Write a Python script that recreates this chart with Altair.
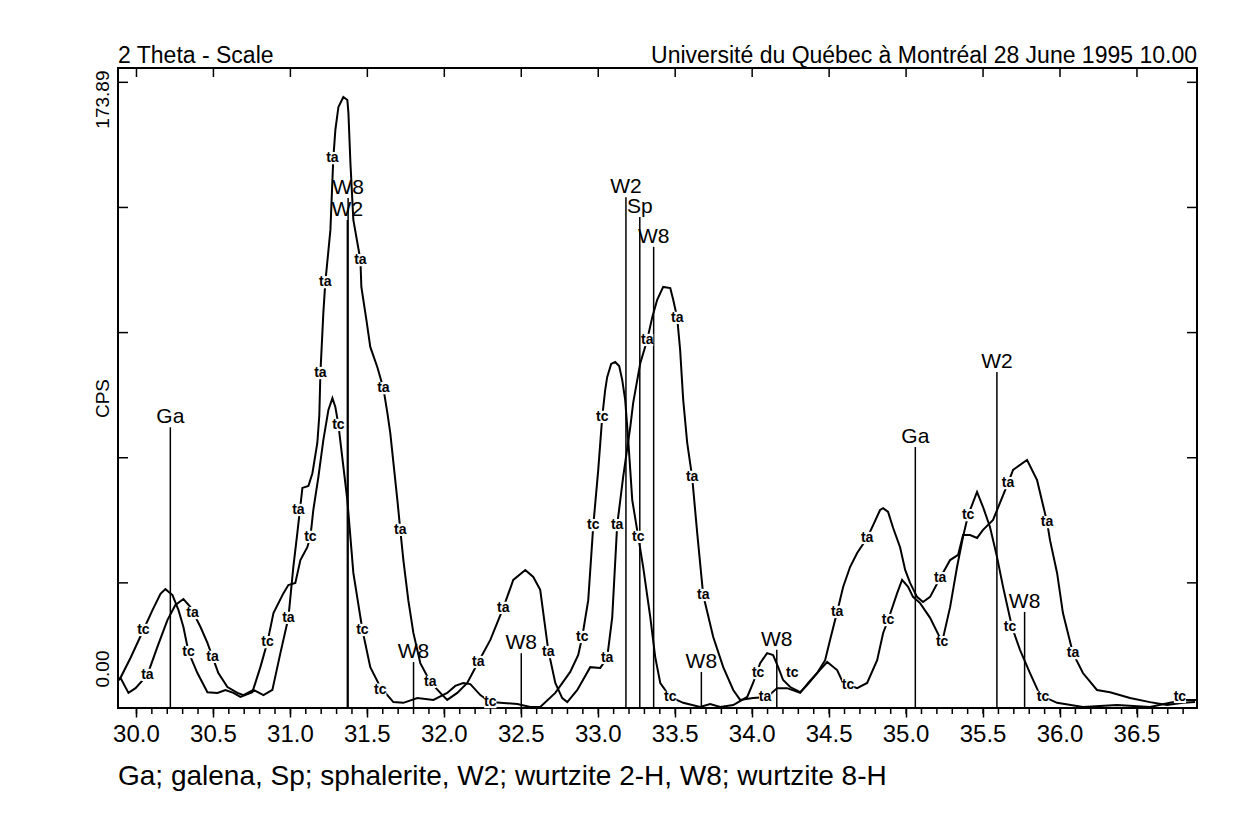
import altair as alt
import pandas as pd

# ---- curve "tc" (2-theta, CPS) ----
TC_X = [29.883, 29.896, 29.961, 30.045, 30.104, 30.156, 30.188, 30.234, 30.273, 30.305,
        30.338, 30.396, 30.461, 30.526, 30.578, 30.630, 30.675, 30.753, 30.805, 30.851,
        30.890, 30.955, 30.987, 31.032, 31.065, 31.110, 31.130, 31.149, 31.182, 31.214,
        31.247, 31.273, 31.292, 31.312, 31.370, 31.409, 31.468, 31.519, 31.584, 31.669,
        31.734, 31.825, 31.929, 32.019, 32.071, 32.123, 32.169, 32.234, 32.299, 32.364,
        32.474, 32.558, 32.623, 32.721, 32.818, 32.870, 32.896, 32.935, 32.968, 33.000,
        33.026, 33.045, 33.058, 33.084, 33.110, 33.136, 33.156, 33.175, 33.195, 33.221,
        33.260, 33.292, 33.338, 33.370, 33.403, 33.468, 33.552, 33.662, 33.727, 33.792,
        33.877, 33.968, 34.006, 34.052, 34.097, 34.136, 34.169, 34.201, 34.247, 34.312,
        34.357, 34.422, 34.487, 34.552, 34.591, 34.682, 34.747, 34.812, 34.851, 34.883,
        34.942, 34.974, 35.013, 35.045, 35.091, 35.156, 35.234, 35.286, 35.331, 35.370,
        35.403, 35.461, 35.500, 35.545, 35.591, 35.630, 35.688, 35.740, 35.805, 35.870,
        35.981, 36.149, 36.370, 36.584, 36.714, 36.812, 36.890]
TC_Y = [7.6, 8.2, 13.6, 21.2, 26.6, 31.0, 32.3, 30.7, 26.6, 22.0,
        15.2, 9.5, 4.3, 4.1, 4.9, 4.1, 3.0, 4.3, 11.1, 17.9,
        25.8, 31.2, 33.4, 34.0, 40.2, 43.7, 46.5, 53.8, 62.8, 72.8,
        81.0, 84.2, 81.8, 76.9, 56.5, 36.7, 21.2, 11.1, 5.7, 1.6,
        1.4, 2.7, 2.2, 4.1, 6.0, 6.8, 6.5, 3.5, 1.6, 1.4,
        1.1, 0.3, 0.3, 4.1, 9.8, 14.4, 19.3, 29.3, 49.7, 64.7,
        79.1, 86.4, 89.9, 93.5, 94.0, 92.9, 89.1, 83.7, 72.8, 56.5,
        46.5, 38.3, 24.7, 13.9, 6.8, 3.0, 1.4, 0.3, 1.1, 0.3,
        0.8, 3.0, 6.8, 12.2, 14.9, 14.4, 11.1, 7.6, 5.7, 4.3,
        6.2, 9.5, 12.5, 10.3, 6.8, 5.4, 6.8, 13.0, 20.4, 23.9,
        31.2, 34.8, 32.9, 30.2, 28.5, 24.5, 17.9, 27.4, 38.3, 46.5,
        52.4, 58.7, 54.6, 49.2, 41.0, 32.9, 22.0, 15.8, 9.5, 3.5,
        1.4, 0.3, 0.8, 0.3, 1.4, 2.2, 2.2]

# ---- curve "ta" ----
TA_X = [29.883, 29.896, 29.948, 29.994, 30.071, 30.136, 30.201, 30.253, 30.305, 30.351,
        30.416, 30.461, 30.494, 30.532, 30.591, 30.656, 30.695, 30.760, 30.825, 30.883,
        30.935, 30.987, 31.019, 31.045, 31.078, 31.117, 31.143, 31.175, 31.188, 31.195,
        31.214, 31.227, 31.260, 31.273, 31.279, 31.292, 31.312, 31.344, 31.370, 31.377,
        31.390, 31.409, 31.455, 31.461, 31.494, 31.519, 31.565, 31.604, 31.630, 31.649,
        31.695, 31.714, 31.734, 31.766, 31.799, 31.844, 31.909, 31.974, 32.019, 32.084,
        32.149, 32.221, 32.299, 32.383, 32.448, 32.526, 32.578, 32.623, 32.675, 32.721,
        32.766, 32.799, 32.864, 32.948, 33.013, 33.058, 33.091, 33.123, 33.162, 33.208,
        33.227, 33.273, 33.318, 33.351, 33.383, 33.422, 33.468, 33.487, 33.513, 33.532,
        33.552, 33.578, 33.610, 33.643, 33.682, 33.747, 33.812, 33.877, 33.922, 34.006,
        34.097, 34.162, 34.227, 34.312, 34.364, 34.422, 34.474, 34.506, 34.552, 34.591,
        34.636, 34.682, 34.747, 34.786, 34.831, 34.851, 34.883, 34.916, 34.961, 34.994,
        35.026, 35.071, 35.110, 35.156, 35.221, 35.286, 35.338, 35.370, 35.416, 35.461,
        35.500, 35.565, 35.662, 35.695, 35.786, 35.851, 35.916, 35.935, 35.981, 36.019,
        36.084, 36.149, 36.240, 36.325, 36.455, 36.584, 36.695, 36.799, 36.877]
TA_Y = [7.6, 8.2, 4.1, 5.4, 9.0, 16.6, 23.9, 28.0, 29.6, 27.4,
        22.0, 17.7, 13.9, 9.5, 5.7, 4.1, 3.5, 4.9, 3.5, 4.9,
        14.9, 24.5, 38.3, 47.5, 59.8, 60.3, 63.8, 72.0, 79.6, 91.0,
        107.3, 115.7, 129.9, 143.5, 149.4, 157.0, 163.3, 166.0, 165.2, 161.7,
        148.1, 132.6, 121.7, 114.4, 105.4, 98.1, 92.6, 86.9, 80.2, 74.7,
        56.5, 48.4, 40.2, 29.3, 20.4, 12.2, 7.1, 4.1, 2.2, 4.1,
        6.8, 12.5, 18.5, 27.2, 34.8, 37.5, 35.6, 32.1, 15.8, 6.8,
        2.7, 1.6, 4.9, 11.1, 10.9, 13.6, 24.7, 49.7, 62.8, 76.3,
        82.9, 93.7, 100.0, 106.2, 110.9, 114.4, 114.1, 110.9, 106.0, 97.3,
        83.7, 72.0, 62.8, 47.5, 30.7, 19.3, 11.1, 4.9, 2.2, 2.7,
        3.0, 5.4, 5.4, 4.1, 6.8, 9.5, 13.0, 18.5, 26.1, 32.9,
        38.3, 42.1, 46.2, 49.7, 53.8, 54.3, 53.3, 48.9, 43.7, 37.5,
        34.0, 30.2, 28.8, 30.2, 35.3, 40.2, 41.6, 47.0, 47.0, 46.2,
        48.4, 51.1, 61.1, 64.7, 67.4, 61.9, 50.5, 45.6, 36.7, 25.8,
        14.9, 9.5, 4.9, 4.3, 2.7, 1.6, 0.8, 1.4, 1.6]

# ---- small "tc" / "ta" tags written along the curves ----
TC_TAG_X = [30.045, 30.338, 30.851, 31.130, 31.312, 31.468, 31.584, 32.299, 32.896, 32.968,
            33.026, 33.260, 33.468, 34.039, 34.260, 34.623, 34.883, 35.234, 35.403, 35.675,
            35.890, 36.779]
TC_TAG_Y = [21.2, 15.2, 17.9, 46.5, 76.9, 21.2, 5.0, 1.6, 19.3, 49.7,
            79.1, 46.5, 3.0, 9.5, 9.5, 6.2, 23.9, 17.9, 52.4, 22.0,
            3.0, 3.0]
TA_TAG_X = [30.071, 30.364, 30.494, 30.987, 31.052, 31.195, 31.227, 31.273, 31.455, 31.604,
            31.714, 31.909, 32.221, 32.383, 32.675, 33.058, 33.123, 33.318, 33.513, 33.610,
            33.682, 34.084, 34.552, 34.747, 35.221, 35.662, 35.916, 36.084]
TA_TAG_Y = [9.0, 25.8, 13.9, 24.5, 53.8, 91.0, 115.7, 149.4, 121.7, 86.9,
            48.4, 7.1, 12.5, 27.2, 15.2, 13.6, 49.7, 100.0, 106.0, 62.8,
            30.7, 3.0, 26.1, 46.2, 35.3, 61.1, 50.5, 14.9]

# ---- reference peak lines ----
REF_X = [30.22, 31.37, 31.375, 31.80, 32.50, 33.18, 33.27, 33.36, 33.67, 34.16, 35.06, 35.59, 35.77]
REF_TOP = [76.3, 132.6, 138.6, 12.5, 14.9, 138.8, 133.4, 125.3, 9.8, 15.8, 70.9, 91.3, 26.1]
REF_NAME = ["Ga", "W2", "W8", "W8", "W8", "W2", "Sp", "W8", "W8", "W8", "Ga", "W2", "W8"]

# ---- axes ----
X_MAJOR = [30.0, 30.5, 31.0, 31.5, 32.0, 32.5, 33.0, 33.5, 34.0, 34.5, 35.0, 35.5, 36.0, 36.5]
X_MINOR = [round(30.0 + 0.1 * i, 1) for i in range(69)]
Y_LABELS = [0.0, 173.89]
Y_TICKS = [34.0, 68.0, 102.0, 136.0, 170.0]

TITLE_LEFT = "2 Theta - Scale"
TITLE_RIGHT = "Université du Québec à Montréal 28 June 1995 10.00"
CAPTION = "Ga; galena, Sp; sphalerite, W2; wurtzite 2-H, W8; wurtzite 8-H"

W, H = 1079, 640
FONT = "Liberation Sans"

xs = alt.Scale(domain=[29.88, 36.89], nice=False, zero=False)
ys = alt.Scale(domain=[0, 173.89], nice=False, zero=False)

curves = pd.DataFrame({
    "x": TC_X + TA_X,
    "y": TC_Y + TA_Y,
    "s": ["tc"] * len(TC_X) + ["ta"] * len(TA_X),
})
tags = pd.DataFrame({
    "x": TC_TAG_X + TA_TAG_X,
    "y": TC_TAG_Y + TA_TAG_Y,
    "s": ["tc"] * len(TC_TAG_X) + ["ta"] * len(TA_TAG_X),
})
refs = pd.DataFrame({"x": REF_X, "top": REF_TOP, "name": REF_NAME})

Y_ALIGN = {"condition": {"test": "datum.value > 100", "value": "right"}, "value": "left"}
Y_OFFSET = {"condition": {"test": "datum.value > 100", "value": 2}, "value": -21}

# the same axis definition is given to every layer so that the shared axes merge cleanly
x_axis = alt.Axis(orient="bottom", values=X_MAJOR, tickSize=9, tickWidth=1.5,
                  tickColor="black", domain=False, grid=False, labels=False, title=None)
y_axis = alt.Axis(orient="left", values=Y_LABELS, ticks=False, domain=False, grid=False,
                  labelExpr="format(datum.value, '.2f')", labelAngle=270,
                  labelAlign=Y_ALIGN, labelOffset=Y_OFFSET,
                  labelBaseline="bottom", labelPadding=6, labelFont=FONT, labelFontSize=19,
                  labelColor="black", title="CPS", titleAngle=270, titleX=-6, titleY=330,
                  titleAlign="center", titleBaseline="bottom", titleFont=FONT, titleFontSize=19,
                  titleFontWeight="normal", titleColor="black")


def X(field):
    return alt.X(field, scale=xs, axis=x_axis)


def Y(field):
    return alt.Y(field, scale=ys, axis=y_axis)


lines = alt.Chart(curves).mark_line(color="black", strokeWidth=2).encode(
    x=X("x:Q"), y=Y("y:Q"), detail="s:N",
)
rules = alt.Chart(refs).mark_rule(color="black", strokeWidth=1.5).encode(
    x=X("x:Q"), y=Y("top:Q"), y2=alt.datum(0),
)
ref_text = alt.Chart(refs).mark_text(font=FONT, fontSize=21, baseline="alphabetic", dy=-4,
                                     color="black").encode(
    x=X("x:Q"), y=Y("top:Q"), text="name:N",
)
tag_bg = alt.Chart(tags).mark_square(color="white", opacity=1, size=150, filled=True).encode(
    x=X("x:Q"), y=Y("y:Q"),
)
tag_text = alt.Chart(tags).mark_text(font=FONT, fontSize=14, fontWeight="bold", color="black",
                                     baseline="middle", align="center").encode(
    x=X("x:Q"), y=Y("y:Q"), text="s:N",
)
minor = alt.Chart(pd.DataFrame({"v": X_MINOR})).mark_rule(color="black", strokeWidth=1.5).encode(
    x=X("v:Q"), y=alt.value(H), y2=alt.value(H + 6),
)
x_labels = alt.Chart(pd.DataFrame({"v": X_MAJOR})).mark_text(
    font=FONT, fontSize=24, color="black", align="center", baseline="alphabetic").encode(
    x=X("v:Q"), y=alt.value(H + 34), text=alt.Text("v:Q", format=".1f"),
)
top_ticks = alt.Chart(pd.DataFrame({"v": X_MAJOR})).mark_rule(color="black", strokeWidth=1.5).encode(
    x=X("v:Q"), y=alt.value(0), y2=alt.value(9),
)
left_ticks = alt.Chart(pd.DataFrame({"v": Y_TICKS})).mark_rule(color="black", strokeWidth=1.5).encode(
    y=Y("v:Q"), x=alt.value(0), x2=alt.value(10),
)
right_ticks = alt.Chart(pd.DataFrame({"v": Y_TICKS})).mark_rule(color="black", strokeWidth=1.5).encode(
    y=Y("v:Q"), x=alt.value(W - 10), x2=alt.value(W),
)

texts = pd.DataFrame({"t": [TITLE_LEFT, TITLE_RIGHT, CAPTION]})
t_left = alt.Chart(texts).transform_filter(alt.datum.t == TITLE_LEFT).mark_text(
    font=FONT, fontSize=23, align="left", baseline="alphabetic", color="black").encode(
    x=alt.value(0), y=alt.value(-5), text="t:N")
t_right = alt.Chart(texts).transform_filter(alt.datum.t == TITLE_RIGHT).mark_text(
    font=FONT, fontSize=23, align="right", baseline="alphabetic", color="black").encode(
    x=alt.value(W), y=alt.value(-5), text="t:N")
t_cap = alt.Chart(texts).transform_filter(alt.datum.t == CAPTION).mark_text(
    font=FONT, fontSize=28, align="left", baseline="alphabetic", color="black").encode(
    x=alt.value(0), y=alt.value(H + 77), text="t:N")

chart = alt.layer(
    lines, rules, tag_bg, tag_text, ref_text, minor, x_labels, top_ticks, left_ticks, right_ticks,
    t_left, t_right, t_cap,
).properties(
    width=W, height=H,
    padding={"left": 110, "top": 60, "right": 30, "bottom": 100},
    autosize=alt.AutoSizeParams(type="none"),
    background="white",
).configure_view(
    stroke="black", strokeWidth=2,
).configure_axisY(
    labelFont=FONT, labelFontSize=19, labelColor="black",
    titleFont=FONT, titleFontSize=19, titleColor="black", titleFontWeight="normal",
)

chart.save("out.html", embed_options={"renderer": "svg", "actions": False})
